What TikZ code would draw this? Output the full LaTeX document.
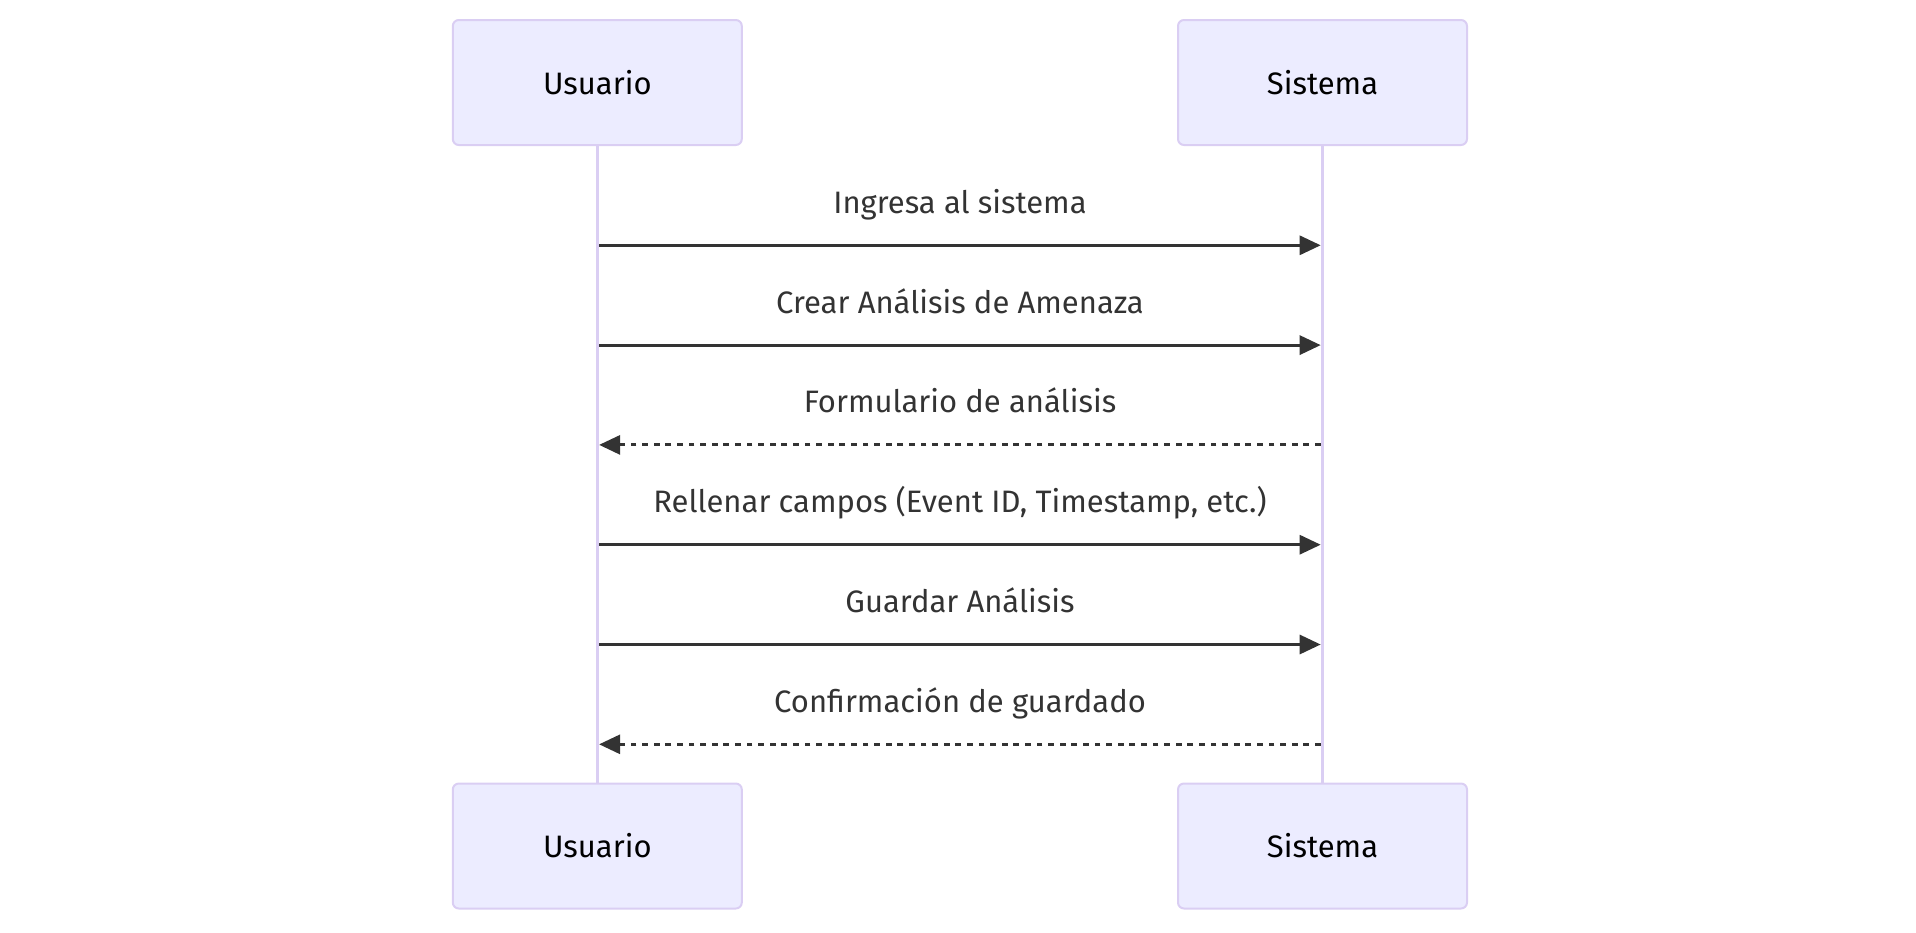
\documentclass[tikz,border=0pt]{standalone}
\usepackage{fontspec}
\setmainfont{Fira Sans}
\usetikzlibrary{arrows.meta}
\definecolor{actorfill}{HTML}{ECECFF}
\definecolor{actorline}{HTML}{DACEF3}
\definecolor{msgcol}{HTML}{333333}
\tikzset{
  actor/.style={draw=actorline, fill=actorfill, line width=2pt, rounded corners=6pt,
    minimum width=289pt, minimum height=125pt, inner sep=0pt,
    font=\fontsize{31}{37}\selectfont, text=black},
  lifeline/.style={draw=actorline, line width=3.5pt},
  msgtext/.style={anchor=base, inner sep=0pt, text=msgcol, font=\fontsize{31}{37}\selectfont},
  syncmsg/.style={draw=msgcol, line width=3pt, -{Triangle[length=21pt,width=19pt]}, shorten >=1.8pt},
  replymsg/.style={syncmsg, dash pattern=on 5.8pt off 5.8pt},
}
\begin{document}
\begin{tikzpicture}[x=1pt,y=-1pt]
\useasboundingbox (0,0) rectangle (1916,932);
\node[actor] (ut) at (597.3,82.5) {Usuario};
\node[actor] (st) at (1322.5,82.5) {Sistema};
\node[actor] (ub) at (597.3,846) {Usuario};
\node[actor] (sb) at (1322.5,846) {Sistema};
\draw[lifeline] (ut.south) -- (ub.north);
\draw[lifeline] (st.south) -- (sb.north);
% message coordinates
\foreach \i/\y in {1/245.3,2/345.1,3/444.9,4/544.7,5/644.5,6/744.3}{
  \coordinate (u\i) at (597.3,\y);
  \coordinate (s\i) at (1322.5,\y);
}
\node[msgtext] (t1) at (960,213.3) {Ingresa al sistema};
\node[msgtext] (t2) at (960,313.1) {Crear Análisis de Amenaza};
\node[msgtext] (t3) at (960,412.9) {Formulario de análisis};
\node[msgtext] (t4) at (960,512.7) {Rellenar campos (Event ID, Timestamp, etc.)};
\node[msgtext] (t5) at (960,612.5) {Guardar Análisis};
\node[msgtext] (t6) at (960,712.3) {Confirmación de guardado};
\draw[syncmsg] ([xshift=1.8pt]u1) -- (s1);
\draw[syncmsg] ([xshift=1.8pt]u2) -- (s2);
\draw[replymsg] ([xshift=-1.8pt]s3) -- (u3);
\draw[syncmsg] ([xshift=1.8pt]u4) -- (s4);
\draw[syncmsg] ([xshift=1.8pt]u5) -- (s5);
\draw[replymsg] ([xshift=-1.8pt]s6) -- (u6);
\end{tikzpicture}
\end{document}
